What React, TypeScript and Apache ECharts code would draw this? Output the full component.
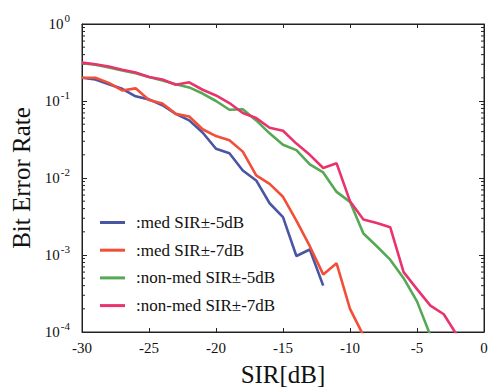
import React, { useEffect, useRef } from "react";
import * as echarts from "echarts";

const sir = [-30, -29, -28, -27, -26, -25, -24, -23, -22, -21, -20, -19, -18, -17, -16, -15, -14, -13, -12, -11, -10, -9, -8, -7, -6, -5, -4, -3, -2];

const medSir5 = [0.2, 0.19, 0.165, 0.144, 0.115, 0.105, 0.088, 0.068, 0.056, 0.039, 0.024, 0.021, 0.0125, 0.0093, 0.0047, 0.0031, 0.00097, 0.00118, 0.0004];
const medSir7 = [0.2, 0.2, 0.172, 0.137, 0.146, 0.103, 0.093, 0.068, 0.063, 0.043, 0.035, 0.031, 0.022, 0.0108, 0.0084, 0.0057, 0.0028, 0.0013, 0.00056, 0.00078, 0.0002, 0.00009];
const nonMedSir5 = [0.31, 0.295, 0.272, 0.25, 0.23, 0.205, 0.185, 0.165, 0.15, 0.125, 0.1, 0.077, 0.078, 0.056, 0.038, 0.027, 0.023, 0.015, 0.0118, 0.0066, 0.0049, 0.0019, 0.0013, 0.00087, 0.0005, 0.00025, 0.00009];
const nonMedSir7 = [0.315, 0.3, 0.28, 0.255, 0.235, 0.205, 0.19, 0.163, 0.175, 0.14, 0.118, 0.094, 0.07, 0.06, 0.045, 0.041, 0.028, 0.02, 0.0135, 0.0155, 0.005, 0.0029, 0.0026, 0.0023, 0.0006, 0.00036, 0.00022, 0.00017, 0.00009];

const seriesNames = [":med SIR\u00b1-5dB", ":med SIR\u00b1-7dB", ":non-med SIR\u00b1-5dB", ":non-med SIR\u00b1-7dB"];
const seriesValues = [medSir5, medSir7, nonMedSir5, nonMedSir7];
const seriesColors = ["#4a55a4", "#f24e38", "#55a955", "#e8336c"];

const decades = [-4, -3, -2, -1];
const minorMultipliers = [2, 3, 4, 5, 6, 7, 8, 9];

const FONT = "'Liberation Serif', 'Times New Roman', serif";

export default function App() {
  const ref = useRef<HTMLDivElement>(null);
  useEffect(() => {
    document.body.style.margin = "0";
    const chart = echarts.init(ref.current!, null, { renderer: "svg" });
    const minorVals: number[][] = [];
    decades.forEach((d) => minorMultipliers.forEach((m) => minorVals.push([m * Math.pow(10, d)])));
    const lineSeries = seriesValues.map((vals, i) => ({
      name: seriesNames[i],
      type: "line",
      data: vals.map((v, j) => [sir[j], v]),
      symbol: "none",
      lineStyle: { color: seriesColors[i], width: 2.6 },
      itemStyle: { color: seriesColors[i] },
      z: 3 + i,
    }));
    chart.setOption({
      animation: false,
      backgroundColor: "#fff",
      grid: { left: 82, top: 24, right: 8, bottom: 55, show: true, borderColor: "#222", borderWidth: 1 },
      legend: {
        orient: "vertical",
        left: 100,
        top: 214,
        padding: 0,
        icon: "rect",
        itemWidth: 25,
        itemHeight: 3,
        itemGap: 10.7,
        data: seriesNames,
        textStyle: { fontFamily: FONT, fontSize: 17, lineHeight: 16, color: "#111", padding: [0, 0, 0, 6] },
      },
      xAxis: [
        {
          type: "value",
          min: -30,
          max: 0,
          interval: 5,
          name: "SIR[dB]",
          nameLocation: "middle",
          nameGap: 30,
          nameTextStyle: { fontFamily: FONT, fontSize: 25, color: "#111" },
          axisLine: { show: true, onZero: false, lineStyle: { color: "#222" } },
          axisTick: { show: true, inside: true, length: 4, lineStyle: { color: "#222" } },
          axisLabel: { fontFamily: FONT, fontSize: 15, color: "#111", margin: 8 },
          splitLine: { show: false },
        },
        {
          type: "value",
          position: "top",
          min: -30,
          max: 0,
          interval: 5,
          axisLine: { show: true, onZero: false, lineStyle: { color: "#222" } },
          axisTick: { show: true, inside: true, length: 4, lineStyle: { color: "#222" } },
          axisLabel: { show: false },
          splitLine: { show: false },
        },
      ],
      yAxis: [
        {
          type: "log",
          logBase: 10,
          min: 1e-4,
          max: 1,
          name: "Bit Error Rate",
          nameLocation: "middle",
          nameGap: 46,
          nameTextStyle: { fontFamily: FONT, fontSize: 25, color: "#111" },
          axisLine: { show: true, onZero: false, lineStyle: { color: "#222" } },
          axisTick: { show: true, inside: true, length: 5, lineStyle: { color: "#222" } },
          axisLabel: {
            margin: 12,
            formatter: (v: number) => `{b|10}{s|${Math.round(Math.log10(v))}}`,
            rich: {
              b: { fontFamily: FONT, fontSize: 15, color: "#111" },
              s: { fontFamily: FONT, fontSize: 11, color: "#111", padding: [0, 0, 12, 1] },
            },
          },
          splitLine: { show: false },
        },
        {
          type: "log",
          logBase: 10,
          min: 1e-4,
          max: 1,
          position: "right",
          axisLine: { show: true, onZero: false, lineStyle: { color: "#222" } },
          axisTick: { show: true, inside: true, length: 5, lineStyle: { color: "#222" } },
          axisLabel: { show: false },
          splitLine: { show: false },
        },
      ],
      series: [
        ...lineSeries,
        {
          type: "custom",
          silent: true,
          data: minorVals,
          encode: { y: 0 },
          renderItem: (params: any, api: any) => {
            const v = api.value(0);
            const l = api.coord([-30, v]);
            const r = api.coord([0, v]);
            return {
              type: "group",
              children: [
                { type: "line", shape: { x1: l[0], y1: l[1], x2: l[0] + 3, y2: l[1] }, style: { stroke: "#222", lineWidth: 1 } },
                { type: "line", shape: { x1: r[0], y1: r[1], x2: r[0] - 3, y2: r[1] }, style: { stroke: "#222", lineWidth: 1 } },
              ],
            };
          },
          z: 2,
        },
      ],
    });
    return () => chart.dispose();
  }, []);
  return <div ref={ref} style={{ width: 492, height: 392 }} />;
}
